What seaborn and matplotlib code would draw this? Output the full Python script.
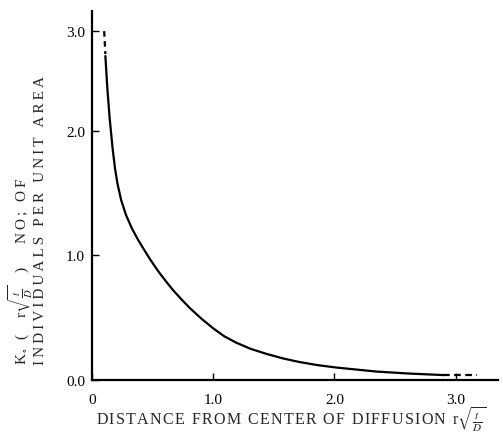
import numpy as np
import pandas as pd
import seaborn as sns
import matplotlib.pyplot as plt

# values
x_main = [0.11, 0.126, 0.145, 0.17, 0.19, 0.21, 0.24, 0.28, 0.33, 0.38, 0.43, 0.475,
          0.52, 0.56, 0.62, 0.67, 0.74, 0.81, 0.90, 1.00, 1.09, 1.19, 1.31, 1.44,
          1.57, 1.71, 1.86, 2.02, 2.35, 2.62, 2.90]
y_main = [2.75, 2.43, 2.13, 1.855, 1.695, 1.575, 1.445, 1.325, 1.215, 1.125, 1.045, 0.975,
          0.91, 0.855, 0.78, 0.72, 0.645, 0.575, 0.495, 0.415, 0.352, 0.30, 0.25, 0.21,
          0.175, 0.145, 0.12, 0.10, 0.068, 0.052, 0.04]
x_head = [0.10, 0.11]
y_head = [3.00, 2.77]
x_tail = [2.90, 3.18]
y_tail = [0.04, 0.04]

x_ticks = [0, 1.0, 2.0, 3.0]
x_ticklabels = ["0", "1.0", "2.0", "3.0"]
y_ticks = [0.0, 1.0, 2.0, 3.0]
y_ticklabels = ["0.0", "1.0", "2.0", "3.0"]

sns.set_style("ticks")
plt.rcParams['font.family'] = ['Liberation Serif', 'DejaVu Serif']
plt.rcParams['mathtext.fontset'] = 'stix'


def spaced(s, sep):
    # widen letter spacing outside of mathtext parts
    parts = s.split("$")
    for i in range(0, len(parts), 2):
        parts[i] = sep.join(parts[i])
    return "$".join(parts)


fig = plt.figure(figsize=(5.03, 4.35), dpi=100)
ax = fig.add_axes([0.183, 0.124, 0.807, 0.848])

# the printed axis is compressed above 2.0
def fwd(y):
    y = np.asarray(y, dtype=float)
    return np.where(y <= 2, y, 2 + (y - 2) * 0.80)

def inv(y):
    y = np.asarray(y, dtype=float)
    return np.where(y <= 2, y, 2 + (y - 2) / 0.80)

ax.set_yscale('function', functions=(fwd, inv))

main = pd.DataFrame({"x": x_main, "y": y_main})
sns.lineplot(data=main, x="x", y="y", ax=ax, color="black", lw=1.6, sort=False)
sns.lineplot(x=x_head, y=y_head, ax=ax, color="black", lw=1.6, linestyle=(0, (2.5, 2)))
sns.lineplot(x=x_tail, y=y_tail, ax=ax, color="black", lw=1.6, linestyle=(0, (3, 2)))

ax.set_xlim(0, 3.35)
ax.set_ylim(0, 3.2)
ax.set_xticks(x_ticks)
ax.set_xticklabels(x_ticklabels)
ax.set_yticks(y_ticks)
ax.set_yticklabels(y_ticklabels)
ax.tick_params(direction="in", length=5, width=1, labelsize=11, colors="black")
ax.tick_params(axis="x", pad=9)
ax.tick_params(axis="y", pad=5)
ax.set_xlabel("")
ax.set_ylabel("")
sns.despine(ax=ax)
for s in ["left", "bottom"]:
    ax.spines[s].set_linewidth(1.6)
    ax.spines[s].set_color("black")

fig.text(0.042, 0.16, spaced(r"K$_\circ$ (  r$\sqrt{\frac{t}{D}}$  )   NO; OF", "\u2009"),
         rotation=90, ha="center", va="bottom", fontsize=11)
fig.text(0.080, 0.16, spaced("INDIVIDUALS PER UNIT AREA", "\u2009"),
         rotation=90, ha="center", va="bottom", fontsize=11)
fig.text(0.19, 0.035, spaced(r"DISTANCE FROM CENTER OF DIFFUSION r$\sqrt{\frac{t}{D}}$", "\u200a"),
         ha="left", va="center", fontsize=11.5)

fig.savefig("out.png", dpi=100)
